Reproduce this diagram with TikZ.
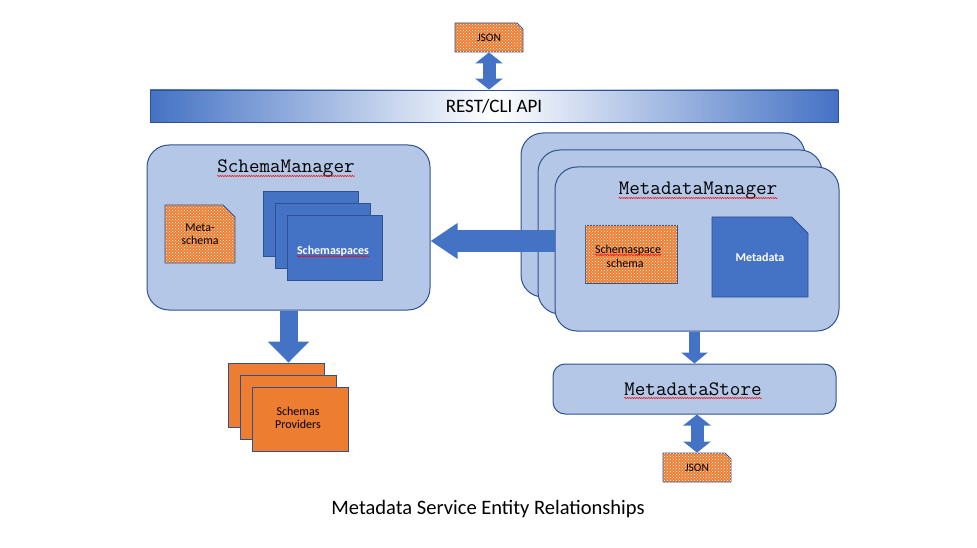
\documentclass[tikz,border=0pt]{standalone}
\usepackage{fontspec}
\setmainfont{Carlito}
\usepackage{xcolor}
\usepackage{tikz}
\usetikzlibrary{arrows.meta,positioning,shapes.misc,patterns,decorations.pathmorphing}
\definecolor{boxblue}{HTML}{B4C7E7}
\definecolor{edgeblue}{HTML}{2F528F}
\definecolor{darkblue}{HTML}{4472C4}
\definecolor{jsonorange}{HTML}{ED7D31}

\begin{document}
\begin{tikzpicture}[x=1pt, y=-1pt,
    mgr/.style={rectangle, rounded corners=22pt, draw=edgeblue, line width=1pt, fill=boxblue, minimum width=284pt, minimum height=164pt},
    mono/.style={font=\fontsize{20.5}{22}\selectfont\ttfamily, inner sep=0pt, anchor=base},
    small/.style={font=\fontsize{12}{13}\selectfont, inner sep=0pt},
    snip/.style={chamfered rectangle, chamfered rectangle corners=north east, chamfered rectangle xsep=#1, chamfered rectangle ysep=#1, draw=edgeblue, line width=0.8pt, inner sep=0pt, font=\fontsize{12}{13}\selectfont, align=center},
    dotbox/.style={snip=#1, fill=jsonorange, postaction={pattern=crosshatch dots, pattern color=white}},
    squig/.style={draw=red, line width=0.5pt, decorate, decoration={snake, amplitude=0.6pt, segment length=2.4pt}},
    twoway/.style={draw=darkblue, line width=13pt, {Triangle[length=11pt, width=27pt]}-{Triangle[length=11pt, width=27pt]}},
    oneway/.style n args={3}{draw=darkblue, line width=#1, -{Triangle[length=#2, width=#3]}}
]
\useasboundingbox (0,0) rectangle (977,548);
% api bar and json on top
\node[dotbox=3pt, minimum width=68pt, minimum height=29pt, font=\fontsize{11.5}{12}\selectfont] (jtop) at (489,37.5) {JSON};
\node[rectangle, draw=edgeblue, line width=0.8pt, left color=darkblue, right color=darkblue, middle color=white, minimum width=688pt, minimum height=32pt, font=\fontsize{19}{22}\selectfont] (api) at (494,106) {REST/CLI API};
\draw[twoway] (jtop.south) -- (jtop.south |- api.north);
% schema manager
\node[mgr, minimum width=283pt, minimum height=165pt] (sm) at (288.5,227.5) {};
\node[mono] (smt) at (286,173) {SchemaManager};
\draw[squig] ([yshift=-3pt]smt.base west) -- ([yshift=-3pt]smt.base east);
\node[dotbox=6pt, minimum width=70pt, minimum height=58pt] (meta) at (200,234) {Meta-\\schema};
\foreach \k/\d in {1/0,2/12,3/24} {\node[snip=12pt, fill=darkblue, minimum width=95pt, minimum height=65pt] (ss\k) at (311+\d,224+\d) {};}
\node[small, text=white, font=\fontsize{12}{13}\selectfont\bfseries] (sst) at (333,251) {Schemaspaces};
\draw[squig] ([yshift=-2pt]sst.base west) -- ([yshift=-2pt]sst.base east);
% schema providers
\foreach \k/\d in {1/0,2/12,3/24} {\node[snip=11pt, fill=jsonorange, minimum width=96pt, minimum height=64pt] (sp\k) at (276+\d,395+\d) {};}
\node[small, align=center] (spt) at (298,418) {Schemas\\Providers};
\draw[oneway={18pt}{21pt}{40pt}] (sm.south) -- (sm.south |- sp1.north);
% metadata manager stack
\foreach \k/\d in {1/0,2/17} {\node[mgr] (mm\k) at (663+\d,215+\d) {};}
\node[mgr] (mm3) at (697,249) {};
\coordinate (mmout) at ([yshift=8pt]mm3.west);
\draw[oneway={21pt}{27pt}{34pt}] (mmout) -- (mmout -| sm.east);
\node[mono] (mmt) at (698,195) {MetadataManager};
\draw[squig] ([yshift=-3pt]mmt.base west) -- ([yshift=-3pt]mmt.base east);
\node[dotbox=5pt, minimum width=92pt, minimum height=58pt] (sss) at (631,254) {};
\node[small, anchor=base] (ssa) at (628,253) {Schemaspace};
\node[small, anchor=base] (ssb) at (625,267) {schema};
\draw[squig] ([yshift=-2pt]ssa.base west) -- ([yshift=-2pt]ssa.base east);
\node[snip=12pt, fill=darkblue, minimum width=96pt, minimum height=80pt, text=white, font=\fontsize{12}{13}\selectfont\bfseries] (md) at (760,257) {Metadata};
% metadata store
\node[mgr, rounded corners=12pt, minimum width=283pt, minimum height=50pt] (store) at (694.5,389) {};
\node[mono] (stt) at (693,395) {MetadataStore};
\draw[squig] ([yshift=-3pt]stt.base west) -- ([yshift=-3pt]stt.base east);
\draw[oneway={11pt}{11pt}{26pt}] (store.north |- mm3.south) -- (store.north);
\node[dotbox=3pt, minimum width=68pt, minimum height=29pt, font=\fontsize{11.5}{12}\selectfont] (jbot) at (697,467.5) {JSON};
\draw[twoway] (jbot.north |- store.south) -- (jbot.north);
% caption
\node[font=\fontsize{20.5}{24}\selectfont] (cap) at (488,509) {Metadata Service Entity Relationships};
\end{tikzpicture}
\end{document}
